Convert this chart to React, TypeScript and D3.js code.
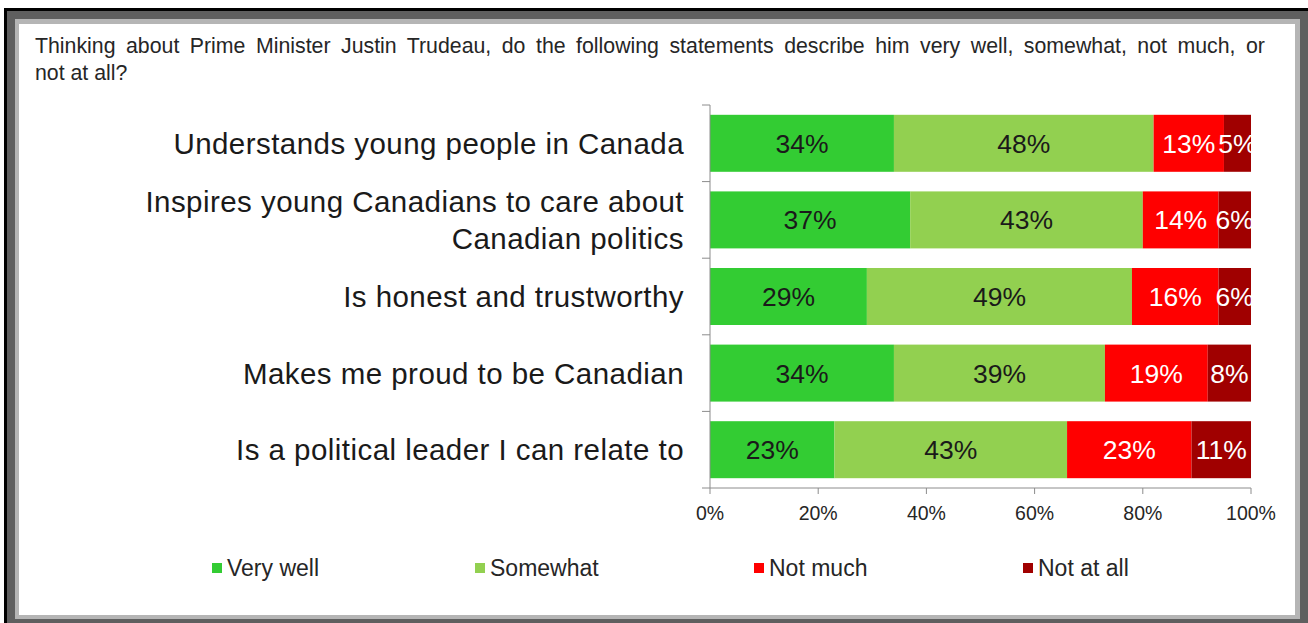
import React from "react";
import * as d3 from "d3";

const title = [
  "Thinking about Prime Minister Justin Trudeau, do the following statements describe him very well, somewhat, not much, or",
  "not at all?",
];
const categories = [
  "Understands young people in Canada",
  "Inspires young Canadians to care about|Canadian politics",
  "Is honest and trustworthy",
  "Makes me proud to be Canadian",
  "Is a political leader I can relate to",
];
const seriesNames = ["Very well", "Somewhat", "Not much", "Not at all"];
const veryWell = [34, 37, 29, 34, 23];
const somewhat = [48, 43, 49, 39, 43];
const notMuch = [13, 14, 16, 19, 23];
const notAtAll = [5, 6, 6, 8, 11];
const tickValues = [0, 20, 40, 60, 80, 100];
const colors = ["#33cc33", "#92d050", "#ff0000", "#a00000"];
const labelColors = ["#1a1a1a", "#1a1a1a", "#ffffff", "#ffffff"];
const legendX = [212, 475, 754, 1023];

const FONT = "'Liberation Sans', Arial, sans-serif";

export default function App() {
  const W = 1308;
  const H = 623;
  const x = d3.scaleLinear().domain([0, 100]).range([710, 1251]);
  const y = d3
    .scaleBand<string>()
    .domain(categories)
    .range([105, 488])
    .paddingInner(0.256)
    .paddingOuter(0.128);

  const rows = categories.map((c, i) => ({
    cat: c,
    "Very well": veryWell[i],
    Somewhat: somewhat[i],
    "Not much": notMuch[i],
    "Not at all": notAtAll[i],
  }));
  const stacked = d3.stack<any>().keys(seriesNames)(rows);

  const step = y.step();
  const bandTop = (c: string) => (y(c) as number) - y.paddingOuter() * step;

  return (
    <svg
      width={W}
      height={H}
      style={{ position: "absolute", left: 0, top: 0, fontFamily: FONT }}
    >
      <rect x={0} y={0} width={W} height={H} fill="#ffffff" />
      <rect x={4} y={8} width={W - 4} height={H - 8} fill="#000000" />
      <rect x={7} y={11} width={W - 7} height={H - 11} fill="#5f5f5f" />
      <rect x={15} y={19} width={1285} height={600} fill="#b5b5b5" />
      <rect x={19} y={24} width={1276} height={591} fill="#ffffff" />

      {title.map((t, i) => (
        <text
          key={i}
          x={35}
          y={53 + i * 27}
          fontSize={21.3}
          fill="#262626"
          wordSpacing={i === 0 ? 4.6 : 0}
        >
          {t}
        </text>
      ))}

      {/* bars */}
      {stacked.map((s, si) => (
        <g key={s.key}>
          {s.map((d, di) => {
            const c = categories[di];
            const x0 = x(d[0]);
            const x1 = x(d[1]);
            const yy = y(c) as number;
            return (
              <rect
                key={di}
                x={x0}
                y={yy}
                width={x1 - x0}
                height={y.bandwidth()}
                fill={colors[si]}
              />
            );
          })}
        </g>
      ))}
      {stacked.map((s, si) => (
        <g key={"l" + s.key}>
          {s.map((d, di) => {
            const c = categories[di];
            const x0 = x(d[0]);
            const x1 = x(d[1]);
            const yy = (y(c) as number) + y.bandwidth() / 2;
            return (
              <text
                key={di}
                x={(x0 + x1) / 2}
                y={yy}
                dy="0.36em"
                textAnchor="middle"
                fontSize={26.5}
                fill={labelColors[si]}
              >
                {`${d[1] - d[0]}%`}
              </text>
            );
          })}
        </g>
      ))}

      {/* y axis */}
      <line x1={710} x2={710} y1={105} y2={488} stroke="#8c8c8c" strokeWidth={1} />
      {categories.map((c) => (
        <line
          key={"t" + c}
          x1={702}
          x2={710}
          y1={bandTop(c)}
          y2={bandTop(c)}
          stroke="#8c8c8c"
        />
      ))}
      <line x1={702} x2={710} y1={488} y2={488} stroke="#8c8c8c" />
      {categories.map((c) => {
        const lines = c.split("|");
        const cy = (y(c) as number) + y.bandwidth() / 2;
        const lh = 37;
        return (
          <text
            key={"c" + c}
            x={684}
            y={cy - ((lines.length - 1) * lh) / 2}
            textAnchor="end"
            fontSize={29.5}
            fill="#1a1a1a"
            letterSpacing={0.45}
          >
            {lines.map((ln, li) => (
              <tspan key={li} x={684} dy={li === 0 ? "0.36em" : lh}>
                {ln}
              </tspan>
            ))}
          </text>
        );
      })}

      {/* x axis */}
      <line x1={710} x2={1251} y1={488} y2={488} stroke="#8c8c8c" />
      {tickValues.map((t) => (
        <g key={"x" + t}>
          <line x1={x(t)} x2={x(t)} y1={488} y2={494} stroke="#8c8c8c" />
          <text
            x={x(t)}
            y={513}
            dy="0.36em"
            textAnchor="middle"
            fontSize={19.5}
            fill="#262626"
          >
            {`${t}%`}
          </text>
        </g>
      ))}

      {/* legend */}
      {seriesNames.map((n, i) => (
        <g key={"lg" + n}>
          <rect x={legendX[i]} y={563} width={10} height={10} fill={colors[i]} />
          <text x={legendX[i] + 15} y={568} dy="0.36em" fontSize={23} fill="#262626">
            {n}
          </text>
        </g>
      ))}
    </svg>
  );
}
